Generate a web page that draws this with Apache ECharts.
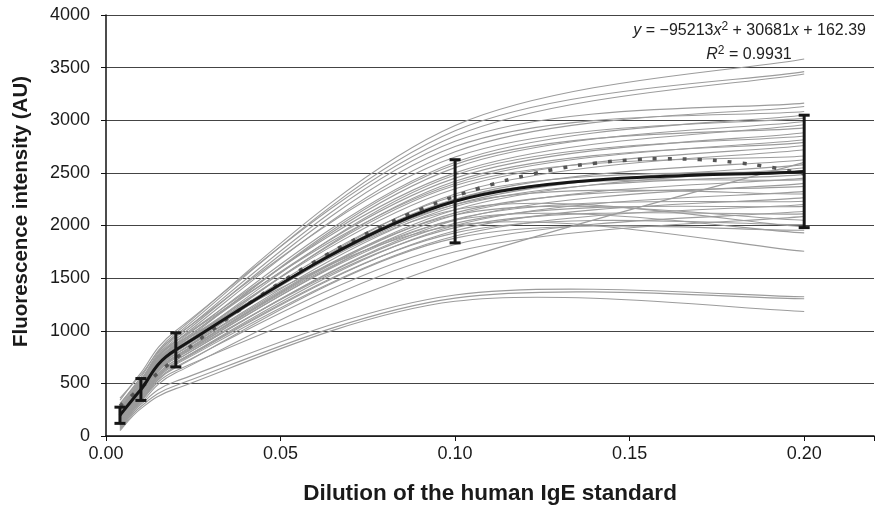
<!DOCTYPE html>
<html>
<head>
<meta charset="utf-8">
<script src="https://cdn.jsdelivr.net/npm/echarts@6/dist/echarts.min.js"></script>
<style>
html,body{margin:0;padding:0;background:#fff;}
#chart{width:877px;height:510px;}
</style>
</head>
<body>
<div id="chart"></div>
<script>
// Dilutions measured
const xDilution = [0.004, 0.01, 0.02, 0.1, 0.2];

// Individual sample curves (fluorescence at each dilution)
const sampleCurves = [
  [300, 560, 980, 2950, 3582],
  [260, 530, 960, 2900, 3462],
  [340, 600, 1000, 2850, 3440],
  [280, 520, 940, 2800, 3163],
  [240, 500, 900, 2700, 3131],
  [310, 540, 920, 2750, 3083],
  [220, 480, 880, 2600, 3050],
  [360, 580, 950, 2650, 3020],
  [200, 470, 860, 2550, 2988],
  [250, 510, 900, 2500, 2957],
  [190, 450, 840, 2580, 2928],
  [230, 490, 870, 2450, 2881],
  [180, 440, 820, 2480, 2850],
  [290, 530, 900, 2400, 2815],
  [170, 430, 800, 2420, 2790],
  [210, 470, 850, 2350, 2760],
  [160, 420, 780, 2300, 2720],
  [230, 480, 830, 2380, 2660],
  [150, 410, 800, 2250, 2625],
  [100, 330, 620, 1660, 2600],
  [260, 500, 860, 2200, 2578],
  [140, 400, 760, 2150, 2549],
  [200, 460, 820, 2280, 2520],
  [170, 430, 780, 2180, 2483],
  [130, 390, 740, 2100, 2450],
  [190, 450, 800, 2250, 2435],
  [120, 370, 720, 2050, 2400],
  [160, 420, 760, 2120, 2372],
  [110, 360, 700, 2000, 2324],
  [240, 490, 840, 2200, 2300],
  [110, 350, 690, 1950, 2265],
  [150, 410, 750, 2060, 2230],
  [100, 340, 680, 1900, 2200],
  [130, 380, 720, 2020, 2182],
  [90, 330, 660, 1820, 2135],
  [140, 400, 740, 1980, 2110],
  [80, 310, 600, 1750, 2087],
  [170, 440, 780, 2100, 2050],
  [120, 370, 700, 1930, 2009],
  [200, 470, 810, 2150, 1987],
  [100, 340, 650, 1880, 1955],
  [160, 420, 760, 2050, 1930],
  [250, 500, 880, 2000, 1755],
  [70, 300, 520, 1340, 1323],
  [60, 280, 480, 1310, 1304],
  [50, 260, 450, 1280, 1183]
];

// Mean curve and standard deviation
const meanIntensity = [197, 442, 818, 2230, 2514];
const sdIntensity = [77, 104, 162, 395, 534];

// Quadratic trend line (dotted) sampled points
const trendX = [0.004, 0.01, 0.02, 0.03, 0.04, 0.05, 0.06, 0.07, 0.08, 0.09, 0.10, 0.11, 0.12, 0.13, 0.14, 0.15, 0.16, 0.17, 0.18, 0.19, 0.20];
const trendY = [284, 460, 738, 997, 1237, 1458, 1660, 1844, 2008, 2152, 2278, 2385, 2473, 2542, 2592, 2622, 2634, 2626, 2600, 2555, 2490];

const xTickLabels = ['0.00', '0.05', '0.10', '0.15', '0.20'];
const yTickLabels = ['0', '500', '1000', '1500', '2000', '2500', '3000', '3500', '4000'];

const FONT = "'Liberation Sans', Arial, Helvetica, sans-serif";

const chart = echarts.init(document.getElementById('chart'), null, {renderer: 'canvas'});

// Spreadsheet-style smoothed curve through the projected points
function ctrl(base, dirA, dirB, sign, chord) {
  let vx = (dirB[0] - dirA[0]) / 6, vy = (dirB[1] - dirA[1]) / 6;
  const len = Math.hypot(vx, vy);
  const maxLen = chord * 0.5;
  if (len > maxLen && len > 0) { vx *= maxLen / len; vy *= maxLen / len; }
  return [base[0] + sign * vx, base[1] + sign * vy];
}
function smoothPath(pts) {
  const n = pts.length;
  let d = 'M' + pts[0][0] + ' ' + pts[0][1];
  for (let i = 0; i < n - 1; i++) {
    const p0 = pts[Math.max(i - 1, 0)], p1 = pts[i], p2 = pts[i + 1], p3 = pts[Math.min(i + 2, n - 1)];
    const chord = Math.hypot(p2[0] - p1[0], p2[1] - p1[1]);
    const c1 = ctrl(p1, p0, p2, 1, chord);
    const c2 = ctrl(p2, p1, p3, -1, chord);
    d += ' C' + c1[0] + ' ' + c1[1] + ' ' + c2[0] + ' ' + c2[1] + ' ' + p2[0] + ' ' + p2[1];
  }
  return d;
}

function curveRenderer(color, width) {
  return function (params, api) {
    const pts = xDilution.map((x, j) => api.coord([x, api.value(j)]));
    return {
      type: 'path',
      shape: {pathData: smoothPath(pts)},
      style: {fill: 'none', stroke: color, lineWidth: width}
    };
  };
}

const series = [
  {
    type: 'custom',
    name: 'samples',
    data: sampleCurves,
    dimensions: ['d0', 'd1', 'd2', 'd3', 'd4'],
    encode: {y: [0, 1, 2, 3, 4]},
    renderItem: curveRenderer('#9c9c9c', 1.1),
    z: 2,
    silent: true,
    clip: false
  },
  {
    type: 'line',
    name: 'trend',
    data: trendX.map((x, i) => [x, trendY[i]]),
    smooth: true,
    symbol: 'none',
    lineStyle: {color: '#555555', width: 3.5, type: [4, 11]},
    z: 3,
    silent: true
  },
  {
    type: 'custom',
    name: 'mean',
    data: [meanIntensity],
    dimensions: ['d0', 'd1', 'd2', 'd3', 'd4'],
    encode: {y: [0, 1, 2, 3, 4]},
    renderItem: curveRenderer('#161616', 3),
    z: 4,
    silent: true,
    clip: false
  },
  {
    type: 'custom',
    name: 'sd',
    data: meanIntensity.map((v, i) => [xDilution[i], v - sdIntensity[i], v + sdIntensity[i]]),
    encode: {x: 0, y: [1, 2]},
    z: 5,
    silent: true,
    renderItem: function (params, api) {
      const x = api.value(0);
      const top = api.coord([x, api.value(2)]);
      const bot = api.coord([x, api.value(1)]);
      const w = 5.5;
      const st = {stroke: '#161616', lineWidth: 3};
      return {
        type: 'group',
        children: [
          {type: 'line', shape: {x1: top[0], y1: top[1], x2: bot[0], y2: bot[1]}, style: st},
          {type: 'line', shape: {x1: top[0] - w, y1: top[1], x2: top[0] + w, y2: top[1]}, style: st},
          {type: 'line', shape: {x1: bot[0] - w, y1: bot[1], x2: bot[0] + w, y2: bot[1]}, style: st}
        ]
      };
    }
  }
];

const option = {
  animation: false,
  backgroundColor: '#ffffff',
  grid: {left: 106, top: 15, width: 775.5, height: 422, containLabel: false},
  xAxis: {
    type: 'value',
    min: 0,
    max: 0.22,
    interval: 0.05,
    name: 'Dilution of the human IgE standard',
    nameLocation: 'middle',
    nameGap: 46,
    nameTextStyle: {fontFamily: FONT, fontSize: 22.5, fontWeight: 'bold', color: '#1a1a1a'},
    axisLine: {show: true, lineStyle: {color: '#111', width: 1.5}},
    axisTick: {show: true, inside: false, length: 5, lineStyle: {color: '#111', width: 1}},
    splitLine: {show: false},
    axisLabel: {
      fontFamily: FONT, fontSize: 18, color: '#1a1a1a', margin: 9,
      formatter: function (v) {
        const k = Math.round(v * 20);
        if (Math.abs(v * 20 - k) > 1e-6 || k >= xTickLabels.length) return '';
        return xTickLabels[k];
      }
    }
  },
  yAxis: {
    type: 'value',
    min: 0,
    max: 4000,
    interval: 500,
    name: 'Fluorescence intensity (AU)',
    nameLocation: 'middle',
    nameGap: 74,
    nameTextStyle: {fontFamily: FONT, fontSize: 20.5, fontWeight: 'bold', color: '#1a1a1a', padding: [0, 0, 0, 28]},
    axisLine: {show: true, lineStyle: {color: '#111', width: 1.5}},
    axisTick: {show: true, inside: false, length: 5, lineStyle: {color: '#111', width: 1}},
    splitLine: {show: true, lineStyle: {color: '#444', width: 1}},
    axisLabel: {
      fontFamily: FONT, fontSize: 18, color: '#1a1a1a', margin: 16,
      formatter: function (v) {
        const k = Math.round(v / 500);
        return yTickLabels[k] !== undefined ? yTickLabels[k] : '';
      }
    }
  },
  graphic: [
    {
      type: 'text',
      right: 11,
      top: 21,
      z: 10,
      style: {
        text: '{i|y} = −95213{i|x}{s|2} + 30681{i|x} + 162.39',
        fontFamily: FONT,
        fontSize: 16,
        fill: '#222',
        rich: {
          i: {fontFamily: FONT, fontSize: 16, fontStyle: 'italic', fill: '#222'},
          s: {fontFamily: FONT, fontSize: 12, fill: '#222', verticalAlign: 'top', padding: [0, 0, 8, 0]}
        }
      }
    },
    {
      type: 'text',
      x: 749,
      y: 55,
      z: 10,
      style: {
        text: '{i|R}{s|2} = 0.9931',
        fontFamily: FONT,
        fontSize: 16,
        fill: '#222',
        align: 'center',
        verticalAlign: 'middle',
        rich: {
          i: {fontFamily: FONT, fontSize: 16, fontStyle: 'italic', fill: '#222'},
          s: {fontFamily: FONT, fontSize: 12, fill: '#222', verticalAlign: 'top', padding: [0, 0, 8, 0]}
        }
      }
    }
  ],
  series: series
};

chart.setOption(option);
</script>
</body>
</html>
